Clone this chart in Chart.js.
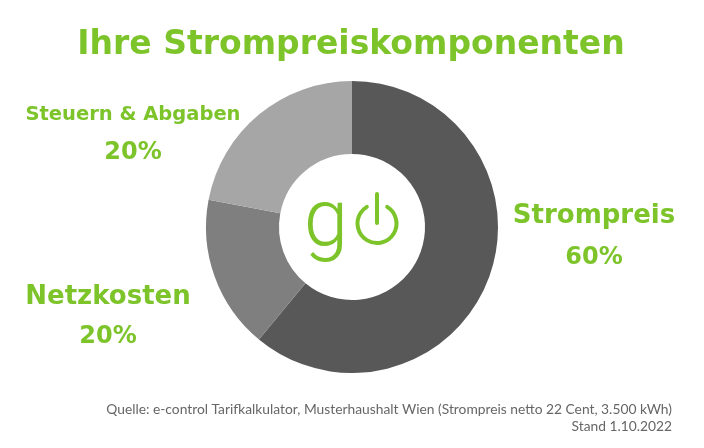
<!DOCTYPE html>
<html>
<head>
<meta charset="utf-8">
<script src="https://cdn.jsdelivr.net/npm/chart.js@4/dist/chart.umd.min.js"></script>
<style>
  html, body { margin: 0; padding: 0; background: #fff; }
  #wrap { width: 704px; height: 448px; }
</style>
</head>
<body>
<div id="wrap"><canvas id="pieChart" width="704" height="448"></canvas></div>
<script>
// Daten (Winkel, Beschriftungen wie im Original)
const categories = ['Strompreis', 'Netzkosten', 'Steuern & Abgaben'];
const shares = [61, 17, 22];
const shareLabels = ['60%', '20%', '20%'];
const sliceColors = ['#585858', '#7f7f7f', '#a6a6a6'];

const titleText = 'Ihre Strompreiskomponenten';
const sourceLines = [
    'Quelle: e-control Tarifkalkulator, Musterhaushalt Wien (Strompreis netto 22 Cent, 3.500 kWh)',
    'Stand 1.10.2022'
];

const green = '#7cc42a';

// Positionen der Beschriftungen (Mitte des Textes)
const labelPos = [
    { x: 594, y: 216, py: 258, size: 26 },
    { x: 108, y: 297, py: 337, size: 26 },
    { x: 133, y: 115, py: 153, size: 19.5 }
];

const textPlugin = {
    id: 'texts',
    afterDraw(chart) {
        const ctx = chart.ctx;
        ctx.save();
        ctx.fillStyle = green;
        ctx.textAlign = 'center';
        ctx.textBaseline = 'middle';

        // Titel
        ctx.font = 'bold 33px "DejaVu Sans"';
        ctx.fillText(titleText, 351, 45);

        // Kategorien + Prozent
        categories.forEach((cat, i) => {
            const p = labelPos[i];
            ctx.font = 'bold ' + p.size + 'px "DejaVu Sans"';
            ctx.fillText(cat, p.x, p.y);
            ctx.font = 'bold 24px "DejaVu Sans"';
            ctx.fillText(shareLabels[i], p.x, p.py);
        });

        // Quelle
        ctx.fillStyle = '#666';
        ctx.textAlign = 'right';
        ctx.font = '13.8px Lato';
        ctx.fillText(sourceLines[0], 672, 410);
        ctx.fillText(sourceLines[1], 672, 427);

        // Logo in der Mitte
        const meta = chart.getDatasetMeta(0).data[0];
        const cx = meta.x, cy = meta.y;
        ctx.fillStyle = green;
        ctx.textAlign = 'center';
        ctx.textBaseline = 'alphabetic';
        ctx.font = '300 80px Roboto';
        ctx.fillText('g', cx - 26, cy + 18);
        ctx.strokeStyle = green;
        ctx.lineWidth = 4;
        ctx.lineCap = 'round';
        ctx.beginPath();
        ctx.arc(cx + 25, cy - 3.5, 19.5, -Math.PI / 2 + 0.55, 1.5 * Math.PI - 0.55);
        ctx.stroke();
        ctx.beginPath();
        ctx.moveTo(cx + 25, cy - 33);
        ctx.lineTo(cx + 25, cy - 4);
        ctx.stroke();
        ctx.restore();
    }
};

const ctxPie = document.getElementById('pieChart').getContext('2d');
const pieChart = new Chart(ctxPie, {
    type: 'doughnut',
    data: {
        labels: categories,
        datasets: [{
            data: shares,
            backgroundColor: sliceColors,
            borderWidth: 0
        }]
    },
    options: {
        responsive: false,
        animation: false,
        cutout: '50%',
        layout: {
            padding: { left: 206, right: 206, top: 81, bottom: 75 }
        },
        plugins: {
            legend: { display: false },
            tooltip: { enabled: false }
        }
    },
    plugins: [textPlugin]
});
</script>
</body>
</html>
